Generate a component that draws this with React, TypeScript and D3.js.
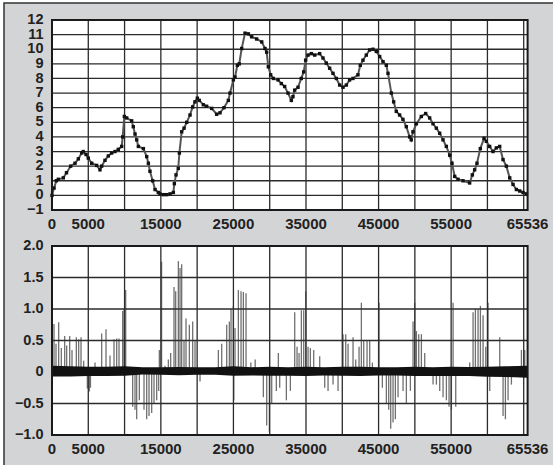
import React from 'react';
import * as d3 from 'd3';

// top panel: cumulative trace (sample index, value)
const topX = [0, 280, 600, 870, 1560, 2000, 2570, 3170, 3630, 4090, 4300, 4690, 5000, 5470, 6150, 6610, 6840, 7300, 7760, 8220, 8680, 9140, 9600, 9740, 9970, 10290, 10980, 11200, 11440, 11670, 11900, 12590, 13050, 13280, 13500, 13870, 14200, 14650, 14880, 15340, 15800, 16260, 16720, 16860, 17090, 17400, 17550, 17870, 18200, 18560, 19020, 19380, 19700, 20030, 20300, 20850, 21300, 22000, 22690, 23150, 23700, 24300, 24530, 24990, 25220, 25540, 25800, 26140, 26600, 27060, 27510, 28200, 28900, 29350, 29580, 29810, 30130, 30500, 31150, 31600, 32060, 32520, 32980, 33200, 33440, 33900, 34350, 34680, 34950, 35280, 35740, 36200, 36880, 37340, 37800, 38260, 38720, 39180, 39640, 40100, 40560, 41010, 41470, 42160, 42480, 42850, 43310, 43770, 44230, 44690, 45150, 45610, 46070, 46300, 46760, 47080, 47440, 47900, 48360, 48820, 49280, 49500, 49740, 50210, 50890, 51490, 52040, 52500, 52960, 53420, 53880, 54340, 54800, 55120, 55490, 55950, 56640, 57550, 57920, 58240, 58560, 59020, 59530, 59850, 60310, 60770, 61230, 61690, 62150, 62610, 63070, 63530, 63990, 64450, 64910, 65370];
const topY = [0, 0.5, 1.0, 1.1, 1.2, 1.55, 2.0, 2.2, 2.5, 2.9, 3.0, 2.8, 2.55, 2.2, 2.05, 1.75, 2.0, 2.4, 2.7, 2.9, 3.0, 3.15, 3.35, 4.0, 5.4, 5.3, 5.1, 4.7, 4.2, 3.8, 3.35, 3.2, 2.65, 2.2, 1.65, 1.0, 0.4, 0.2, 0.1, 0.05, 0.05, 0.1, 0.2, 0.8, 1.4, 1.85, 2.9, 4.35, 4.6, 5.0, 5.5, 6.05, 6.4, 6.65, 6.5, 6.2, 6.1, 5.95, 5.55, 5.65, 6.0, 6.5, 7.0, 7.9, 8.1, 8.9, 9.0, 10.05, 11.1, 11.05, 10.85, 10.7, 10.5, 10.05, 9.8, 8.8, 8.25, 8.0, 7.9, 7.65, 7.45, 7.0, 6.5, 6.75, 7.2, 7.4, 8.0, 8.45, 9.25, 9.6, 9.7, 9.6, 9.7, 9.4, 9.05, 8.7, 8.35, 8.0, 7.55, 7.4, 7.55, 7.9, 8.0, 8.25, 8.9, 9.25, 9.6, 9.95, 10.0, 9.85, 9.5, 9.15, 8.9, 8.35, 7.0, 6.4, 5.75, 5.5, 5.2, 4.7, 4.0, 3.8, 4.35, 4.9, 5.4, 5.6, 5.3, 4.9, 4.6, 4.25, 3.8, 3.35, 2.75, 2.2, 1.3, 1.1, 1.0, 0.85, 1.4, 1.75, 2.2, 3.2, 3.9, 3.7, 3.35, 3.0, 3.25, 3.35, 2.45, 2.0, 1.2, 0.75, 0.4, 0.3, 0.2, 0.1];

// bottom panel: spikes
const spikeX = [276, 551, 919, 1286, 1746, 2021, 2435, 2756, 3353, 3675, 3997, 4364, 4870, 5145, 5300, 5926, 6845, 7442, 7993, 8545, 8912, 9234, 9739, 9923, 10153, 11118, 11439, 11668, 12036, 12679, 13047, 13368, 13736, 14057, 14425, 14701, 14792, 15100, 15573, 16032, 16354, 16814, 17043, 17411, 17641, 17870, 18192, 18467, 18926, 19386, 19708, 20397, 22924, 23384, 24073, 24440, 24669, 24991, 25050, 25221, 25680, 26047, 26369, 26736, 27400, 28000, 29125, 29585, 29952, 30274, 30912, 31190, 31376, 32295, 32846, 33444, 33766, 34041, 34362, 34684, 34960, 35281, 35603, 36062, 36889, 37579, 38038, 38727, 39416, 40105, 40473, 40794, 41483, 41851, 42310, 42631, 42953, 43412, 43780, 44148, 45066, 45524, 46075, 46397, 46672, 46993, 47315, 47682, 48373, 48832, 49383, 49752, 49982, 50212, 50533, 50901, 51360, 52508, 52967, 53427, 53886, 54345, 54713, 55035, 55265, 55632, 57564, 58021, 58342, 58710, 59032, 59400, 59767, 60089, 60319, 61697, 62156, 62477, 62845, 63305, 64682, 65141];
const spikeY = [0.76, 0.45, 0.79, 0.38, 0.57, 0.42, 0.57, 0.35, 0.55, 0.52, 0.55, 0.18, -0.26, -0.31, -0.25, 0.15, 0.61, 0.68, 0.26, 0.52, 0.53, 0.53, 0.97, 1.0, 1.3, -0.55, -0.6, -0.75, -0.45, -0.6, -0.75, -0.7, -0.65, -0.5, -0.45, -0.3, 0.35, 1.75, 0.1, 0.2, 0.3, 1.35, 1.28, 1.76, 1.65, 1.71, 0.5, 0.85, 0.75, 0.8, 0.5, -0.15, 0.35, 0.45, 0.75, 0.8, 1.0, 1.05, -0.45, 0.7, 1.3, 1.28, 1.27, 1.25, 0.15, 0.2, -0.4, -0.85, -0.95, -0.5, -0.3, 0.3, -0.25, -0.45, -0.3, 0.95, 0.4, 0.3, 0.98, 0.98, 1.28, 0.4, 0.38, 0.35, 0.25, -0.25, -0.3, -0.2, -0.3, 0.6, 0.6, 0.45, 0.55, 0.2, 0.4, 1.1, 0.5, 0.5, 0.5, 0.15, 1.1, -0.25, -0.5, -0.6, -0.9, -0.8, -0.75, -0.4, -0.3, -0.5, -0.3, 0.8, 1.1, 0.65, 0.6, 0.6, 0.3, -0.2, -0.2, -0.3, -0.4, -0.45, -0.55, -0.6, 1.1, -0.55, 0.15, 0.95, 1.0, 1.0, 1.05, 0.9, 0.4, 1.1, -0.3, 0.55, -0.7, -0.75, -0.45, -0.2, 0.35, 0.35];

// noise band around zero
const bandX = [0, 2500, 5000, 7500, 10000, 12500, 15000, 17500, 20000, 22500, 25000, 27500, 30000, 32500, 35000, 37500, 40000, 42500, 45000, 47500, 50000, 52500, 55000, 57500, 60000, 62500, 65536];
const bandHi = [0.1, 0.09, 0.085, 0.085, 0.09, 0.075, 0.075, 0.08, 0.075, 0.075, 0.09, 0.075, 0.085, 0.075, 0.085, 0.075, 0.085, 0.085, 0.075, 0.075, 0.085, 0.075, 0.085, 0.08, 0.085, 0.09, 0.1];
const bandLo = [-0.07, -0.07, -0.065, -0.065, -0.06, -0.04, -0.045, -0.05, -0.045, -0.045, -0.06, -0.055, -0.06, -0.06, -0.065, -0.055, -0.06, -0.065, -0.055, -0.055, -0.065, -0.065, -0.065, -0.065, -0.075, -0.08, -0.09];

const xTickLabels = [0, 5000, 15000, 25000, 35000, 45000, 55000, 65536];
const topYTicks = [12, 11, 10, 9, 8, 7, 6, 5, 4, 3, 2, 1, 0, -1];
const botYTicks = [2, 1.5, 1, 0.5, 0, -0.5, -1];

const W = 553, H = 465;
const font = "'Liberation Sans', Arial, sans-serif";
const fmtMinus = (s: string) => s.replace('-', '\u2212');

const App = () => {
  const x = d3.scaleLinear().domain([0, 65536]).range([52, 527.6]);
  const yTop = d3.scaleLinear().domain([-1, 12]).range([210, 20]);
  const yBot = d3.scaleLinear().domain([-1, 2]).range([435, 246]);
  const gridX = d3.range(0, 65536, 5000);

  const topLine = d3.line<number>()
    .x((d, i) => x(topX[i]))
    .y(d => yTop(d));

  const band = d3.area<number>()
    .x(d => x(d))
    .y0((d, i) => yBot(bandLo[i]))
    .y1((d, i) => yBot(bandHi[i]));

  const panel = (y: d3.ScaleLinear<number, number>, ticks: number[], labelFmt: (v: number) => string, labelY: number) => (
    <g>
      <rect x={x(0)} y={y.range()[1]} width={x(65536) - x(0)} height={y.range()[0] - y.range()[1]} fill="#fff" />
      {gridX.map(g => (
        <line key={'v' + g} x1={x(g)} x2={x(g)} y1={y.range()[1]} y2={y.range()[0]} stroke="#2b2b2b" strokeWidth={1.3} />
      ))}
      {ticks.map(t => (
        <line key={'h' + t} x1={x(0)} x2={x(65536)} y1={y(t)} y2={y(t)} stroke="#2b2b2b" strokeWidth={1.3} />
      ))}
      {ticks.map(t => (
        <text key={'l' + t} x={43.5} y={y(t) - 1} dy="0.35em" textAnchor="end" fontFamily={font} fontWeight="bold" fontSize={14.5} fill="#222">
          {fmtMinus(labelFmt(t))}
        </text>
      ))}
      {xTickLabels.map(t => (
        <text key={'x' + t} x={x(t)} y={labelY} textAnchor="middle" fontFamily={font} fontWeight="bold" fontSize={15} fill="#222">
          {t}
        </text>
      ))}
    </g>
  );

  const frame = (y: d3.ScaleLinear<number, number>) => (
    <rect x={x(0)} y={y.range()[1]} width={x(65536) - x(0)} height={y.range()[0] - y.range()[1]} fill="none" stroke="#1a1a1a" strokeWidth={2} />
  );

  return (
    <svg width={W} height={H} style={{ position: 'absolute', left: 0, top: 0 }}>
      <rect x={4} y={3} width={W} height={H} fill="#d3d4d6" stroke="#333" strokeWidth={1.5} />

      {panel(yTop, topYTicks, v => String(v), 228.5)}
      <path d={topLine(topY) || ''} fill="none" stroke="#555" strokeWidth={2} />
      {topY.map((v, i) => (
        <rect key={'m' + i} x={x(topX[i]) - 1.7} y={yTop(v) - 1.7} width={3.4} height={3.4} fill="#111" />
      ))}
      {frame(yTop)}

      {panel(yBot, botYTicks, v => (v === 0 ? '0' : v.toFixed(1)), 453.5)}
      {spikeX.map((s, i) => (
        <line key={'s' + i} x1={x(s)} x2={x(s)} y1={yBot(0)} y2={yBot(spikeY[i])} stroke="#333" strokeOpacity={0.7} strokeWidth={1.3} />
      ))}
      <path d={band(bandX) || ''} fill="#111" />
      {frame(yBot)}
    </svg>
  );
};

export default App;
